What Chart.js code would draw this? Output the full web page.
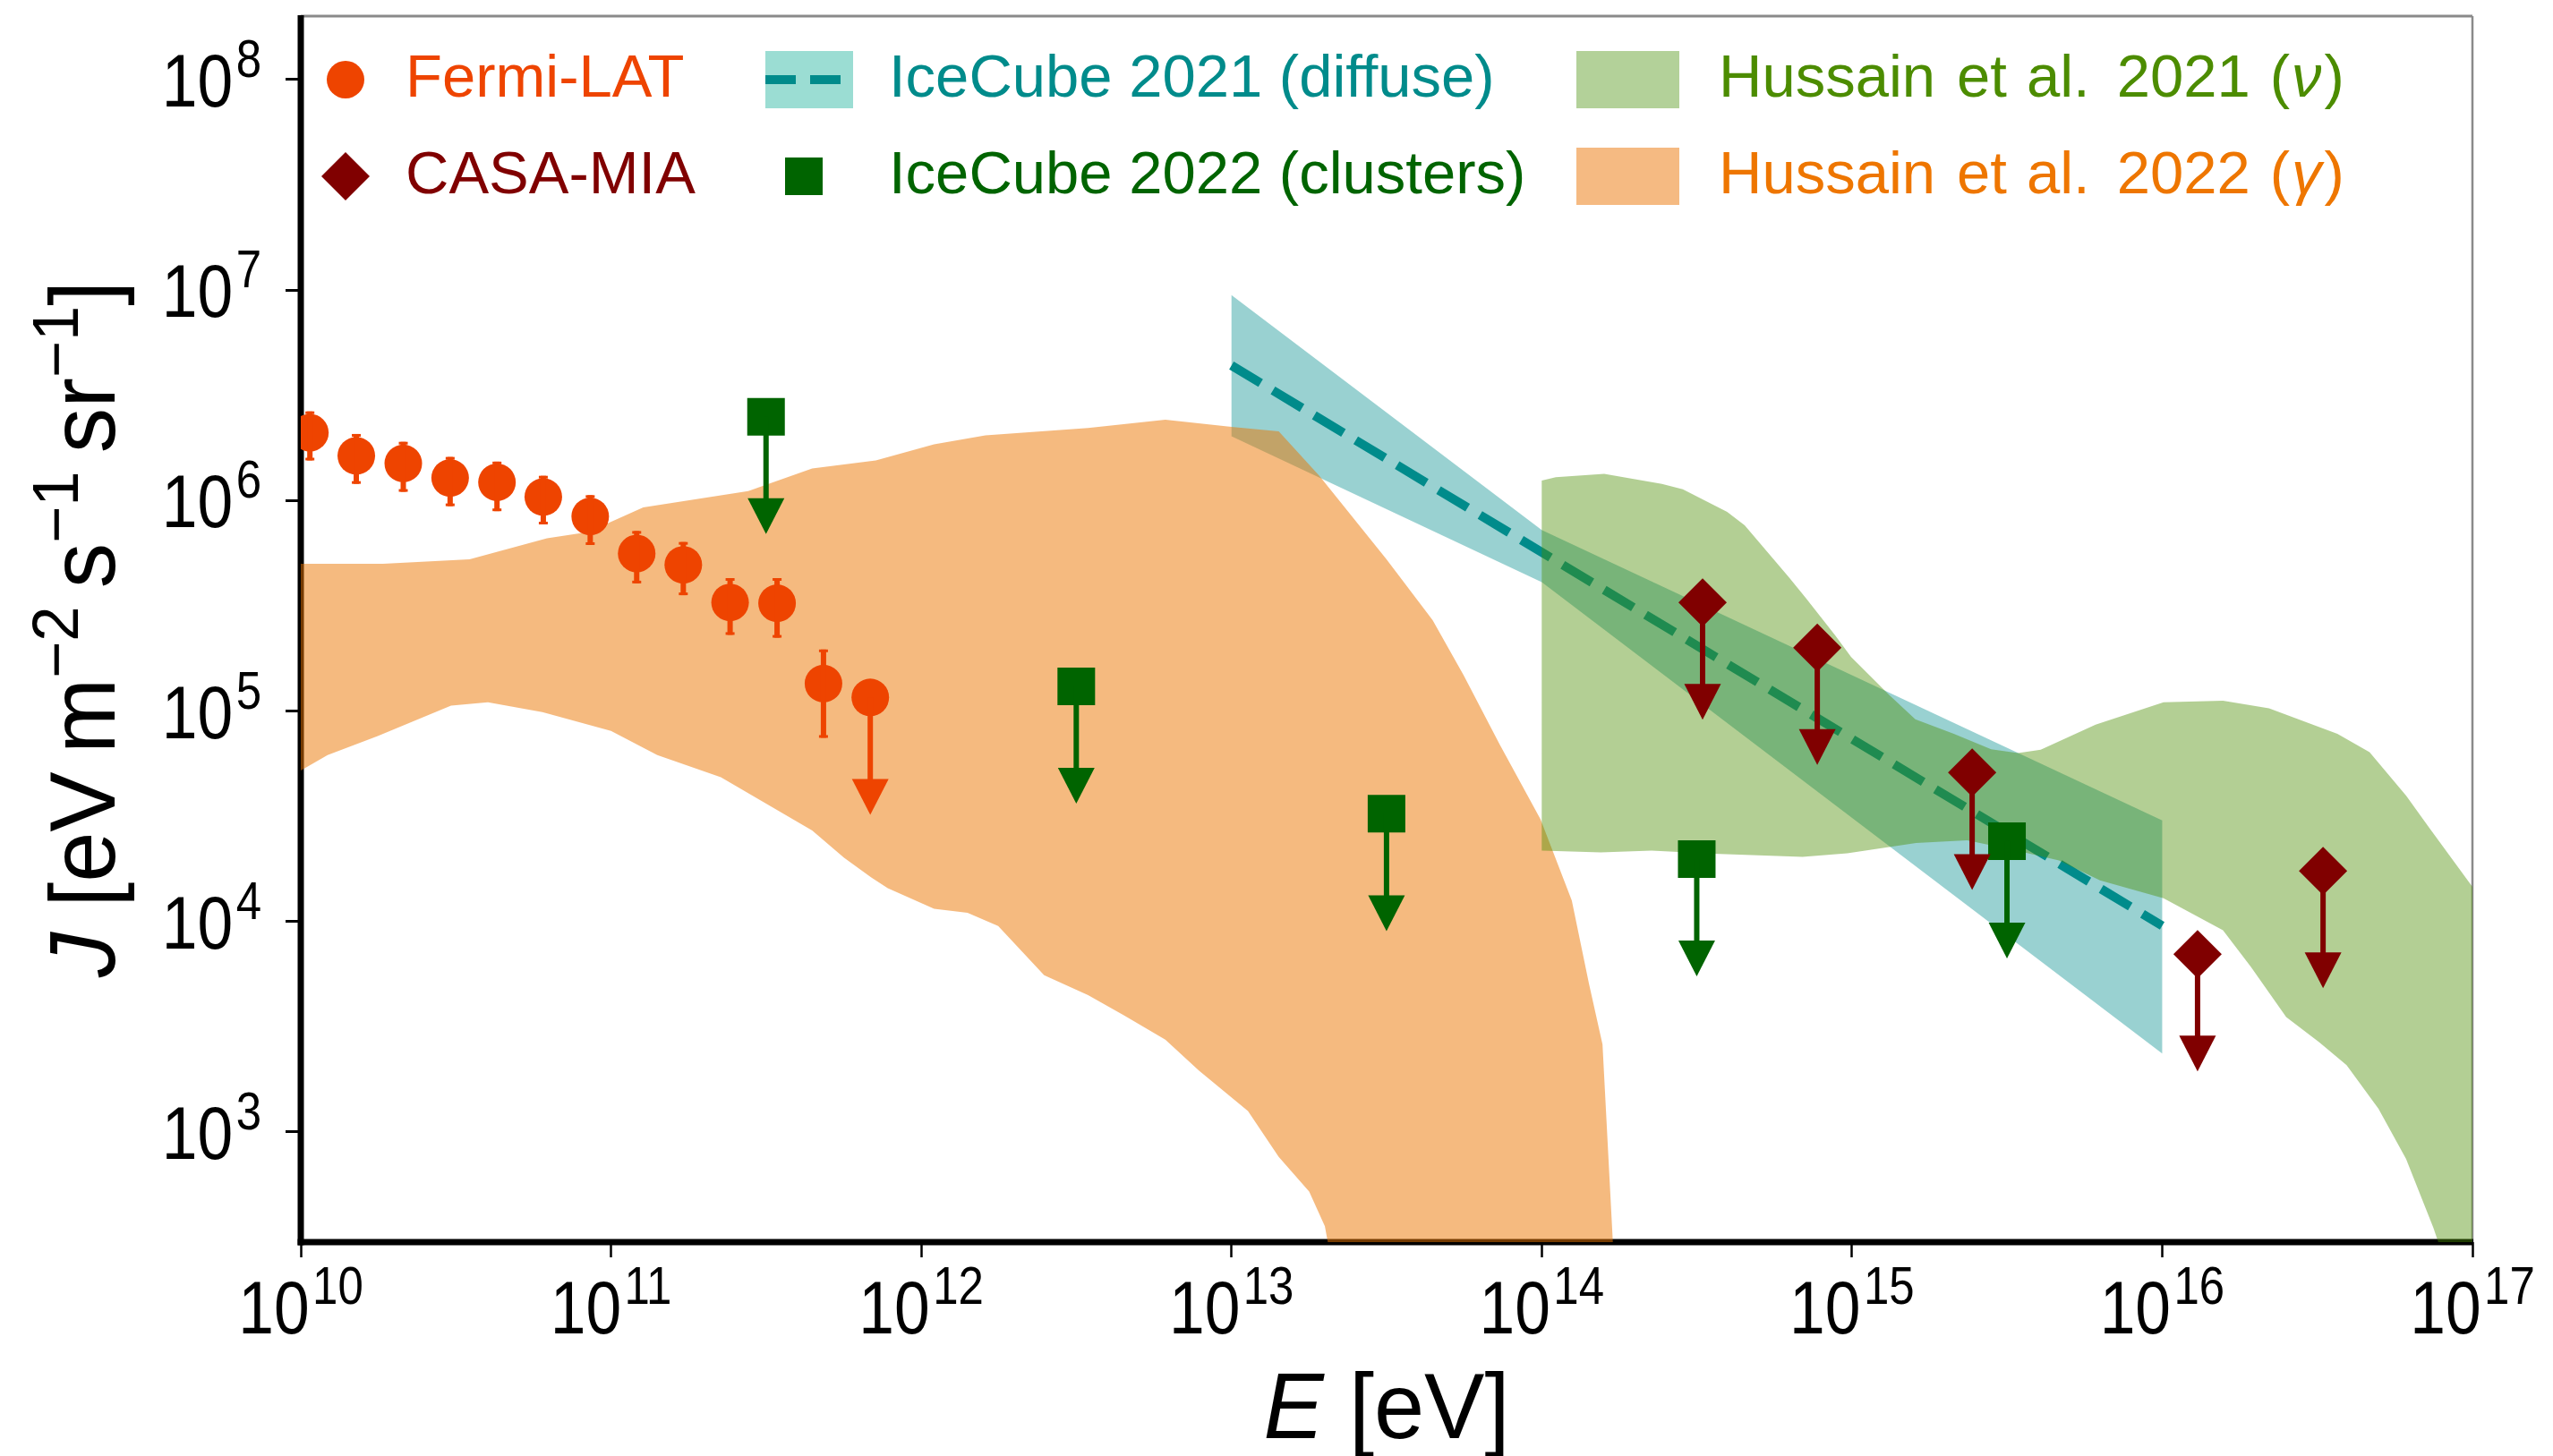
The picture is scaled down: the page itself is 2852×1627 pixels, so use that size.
<!DOCTYPE html>
<html>
<head>
<meta charset="utf-8">
<title>Gamma-ray and neutrino intensities</title>
<script src="https://cdn.jsdelivr.net/npm/chart.js@4.4.1/dist/chart.umd.min.js"></script>
<style>
  html, body { margin: 0; padding: 0; background: #ffffff; }
  canvas { display: block; }
</style>
</head>
<body>
<canvas id="chart" width="2852" height="1627"></canvas>
<script>
// ---- Axis ranges and decade ticks (E in eV, J in eV m^-2 s^-1 sr^-1) ----
const X_MIN = 1e10, X_MAX = 1e17;
const Y_MIN = 3e2, Y_MAX = 2e8;
const X_TICK_EXPONENTS = [10, 11, 12, 13, 14, 15, 16, 17];
const Y_TICK_EXPONENTS = [3, 4, 5, 6, 7, 8];

// ---- Fermi-LAT points with 1-sigma bars (last bin is an upper limit) ----
const fermiE   = [1.07e10, 1.51e10, 2.14e10, 3.03e10, 4.29e10, 6.05e10, 8.57e10, 1.21e11, 1.71e11, 2.42e11, 3.43e11, 4.84e11, 6.85e11];
const fermiJ   = [2.10e6, 1.63e6, 1.50e6, 1.28e6, 1.22e6, 1.04e6, 8.4e5, 5.6e5, 4.95e5, 3.28e5, 3.25e5, 1.35e5, 1.16e5];
const fermiJHi = [2.65e6, 2.07e6, 1.90e6, 1.61e6, 1.53e6, 1.31e6, 1.06e6, 7.16e5, 6.35e5, 4.28e5, 4.28e5, 1.96e5, null];
const fermiJLo = [1.55e6, 1.20e6, 1.10e6, 9.4e5, 8.9e5, 7.7e5, 6.15e5, 4.04e5, 3.55e5, 2.30e5, 2.23e5, 7.46e4, null];
const fermiUL  = [false, false, false, false, false, false, false, false, false, false, false, false, true];

// ---- CASA-MIA upper limits ----
const casaE = [3.30e14, 7.73e14, 2.44e15, 1.30e16, 3.30e16];
const casaJ = [3.28e5, 2.00e5, 5.10e4, 7.0e3, 1.74e4];

// ---- IceCube 2022 (clusters) upper limits ----
const icClusterE = [3.16e11, 3.16e12, 3.16e13, 3.16e14, 3.16e15];
const icClusterJ = [2.50e6, 1.31e5, 3.25e4, 1.98e4, 2.41e4];

// Upper-limit arrows reach down to this fraction of the quoted value
const UL_FRACTION = 0.41;

// ---- IceCube 2021 diffuse: best-fit power law and its uncertainty band ----
const icDiffuseE = [1e13, 1e16];
const icDiffuseJ = [4.38e6, 9.55e3];
const icBandE  = [1e13, 1e14, 1e16];
const icBandHi = [9.46e6, 7.24e5, 3.02e4];
const icBandLo = [2.02e6, 4.10e5, 2.36e3];

// ---- Hussain et al. 2022 (gamma) band ----
const gamUpE = [1.00e10, 1.84e10, 3.50e10, 6.22e10, 8.45e10, 1.27e11, 2.77e11, 4.45e11, 7.14e11, 1.10e12, 1.61e12, 3.45e12, 6.12e12, 1.00e13, 1.42e13, 1.92e13, 3.16e13, 4.45e13, 5.60e13, 7.31e13, 9.91e13, 1.25e14, 1.42e14, 1.57e14, 1.72e14];
const gamUpJ = [5.01e5, 5.01e5, 5.25e5, 6.61e5, 7.08e5, 9.27e5, 1.11e6, 1.42e6, 1.55e6, 1.85e6, 2.04e6, 2.21e6, 2.42e6, 2.24e6, 2.13e6, 1.31e6, 5.25e5, 2.70e5, 1.48e5, 6.97e4, 3.06e4, 1.26e4, 5.07e3, 2.61e3, 2.0e2];
const gamLoE = [1.00e10, 1.22e10, 1.77e10, 3.05e10, 4.01e10, 6.01e10, 1.00e11, 1.41e11, 2.26e11, 4.45e11, 5.64e11, 6.90e11, 7.80e11, 1.10e12, 1.41e12, 1.77e12, 2.49e12, 3.45e12, 4.51e12, 6.12e12, 7.85e12, 1.13e13, 1.42e13, 1.78e13, 2.00e13, 2.15e13];
const gamLoJ = [5.22e4, 6.18e4, 7.60e4, 1.06e5, 1.10e5, 9.89e4, 8.04e4, 6.18e4, 4.85e4, 2.71e4, 2.01e4, 1.62e4, 1.44e4, 1.15e4, 1.10e4, 9.53e3, 5.56e3, 4.47e3, 3.58e3, 2.75e3, 1.96e3, 1.26e3, 7.62e2, 5.21e2, 3.57e2, 2.0e2];

// ---- Hussain et al. 2021 (neutrino) band ----
const nuUpE = [1.00e14, 1.11e14, 1.59e14, 2.44e14, 2.85e14, 3.96e14, 4.51e14, 6.27e14, 7.11e14, 8.83e14, 9.93e14, 1.32e15, 1.60e15, 2.13e15, 2.81e15, 3.43e15, 4.06e15, 6.10e15, 1.01e16, 1.57e16, 2.21e16, 3.67e16, 4.66e16, 6.11e16, 7.24e16, 1.00e17];
const nuUpJ = [1.245e6, 1.29e6, 1.34e6, 1.20e6, 1.13e6, 8.83e5, 7.62e5, 4.31e5, 3.43e5, 2.29e5, 1.81e5, 1.19e5, 9.14e4, 7.80e4, 6.58e4, 6.32e4, 6.55e4, 8.61e4, 1.10e5, 1.12e5, 1.03e5, 7.80e4, 6.38e4, 3.97e4, 2.80e4, 1.46e4];
const nuLoE = [1.00e14, 1.55e14, 2.26e14, 3.58e14, 6.93e14, 9.66e14, 1.61e15, 2.35e15, 3.44e15, 4.65e15, 6.30e15, 1.01e16, 1.57e16, 1.93e16, 2.51e16, 3.21e16, 3.93e16, 4.98e16, 6.11e16, 7.48e16, 1.00e17];
const nuLoJ = [2.17e4, 2.13e4, 2.17e4, 2.10e4, 2.03e4, 2.11e4, 2.36e4, 2.43e4, 2.16e4, 1.95e4, 1.57e4, 1.29e4, 9.08e3, 6.10e3, 3.52e3, 2.67e3, 2.08e3, 1.29e3, 7.46e2, 3.52e2, 1.0e2];

// ---- Colours ----
const C_FERMI = '#EE4400';
const C_CASA = '#800000';
const C_ICCLUSTER = '#006400';
const C_ICDIFFUSE = '#008B8B';
const C_NU_TEXT = '#4C8C00';
const C_GAM_TEXT = '#EE7600';
const C_ICBAND = 'rgba(0,139,139,0.40)';
const C_NUBAND = 'rgba(75,140,0,0.42)';
const C_GAMBAND = 'rgba(236,118,0,0.50)';

const FONT_FAMILY = '"Liberation Sans", "DejaVu Sans", Arial, sans-serif';

// helpers to turn value arrays into {x, y} points
const pts = (xs, ys) => xs.map((x, i) => ({ x, y: ys[i] }));
const closedBand = (xu, yu, xl, yl) => pts(xu, yu).concat(pts(xl, yl).reverse());

// ---- Rich text (plain / italic / superscript runs) ----
function fontFor(part, o) {
  const size = part.sup ? o.supSize : o.size;
  return (part.it ? 'italic ' : '') + size + 'px ' + FONT_FAMILY;
}
function richWidth(ctx, parts, o) {
  let w = 0;
  for (const p of parts) {
    ctx.font = fontFor(p, o);
    w += ctx.measureText(p.t).width + (p.gap || 0);
  }
  return w;
}
function drawRich(ctx, parts, x, y, o) {
  ctx.save();
  ctx.translate(x, y);
  if (o.rotate) ctx.rotate(o.rotate);
  ctx.scale(o.sx || 1, 1);
  ctx.fillStyle = o.color || '#000';
  ctx.textBaseline = 'alphabetic';
  ctx.textAlign = 'left';
  const w = richWidth(ctx, parts, o);
  let cx = o.align === 'center' ? -w / 2 : (o.align === 'right' ? -w : 0);
  for (const p of parts) {
    ctx.font = fontFor(p, o);
    cx += (p.gap || 0);
    ctx.fillText(p.t, cx, p.sup ? -o.supRise : 0);
    cx += ctx.measureText(p.t).width;
  }
  ctx.restore();
}
const decadeLabel = (e) => [{ t: '10' }, { t: String(e), sup: true, gap: 4 }];
// "Hussain et al. YEAR (symbol)" with the wider spacing used after "et al."
const hussainLabel = (year, symbol) => [
  { t: 'Hussain' }, { t: 'et', gap: 24 }, { t: 'al.', gap: 22 }, { t: year, gap: 30 },
  { t: '(', gap: 22 }, { t: symbol, it: true, gap: 2 }, { t: ')', gap: 3 }
];

// ---- Axes frame, tick labels and titles ----
const framePlugin = {
  id: 'frame',
  beforeDatasetsDraw(chart) {
    const { ctx, chartArea: a } = chart;
    ctx.save();
    ctx.lineCap = 'butt';
    ctx.strokeStyle = '#8a8a8a';
    ctx.lineWidth = 3;
    ctx.beginPath(); ctx.moveTo(a.left, a.top); ctx.lineTo(a.right, a.top); ctx.stroke();
    ctx.lineWidth = 2.5;
    ctx.beginPath(); ctx.moveTo(a.right, a.top); ctx.lineTo(a.right, a.bottom); ctx.stroke();
    ctx.strokeStyle = '#000';
    ctx.lineWidth = 7;
    ctx.beginPath(); ctx.moveTo(a.left, a.top - 1); ctx.lineTo(a.left, a.bottom + 3.5); ctx.stroke();
    ctx.beginPath(); ctx.moveTo(a.left - 3.5, a.bottom); ctx.lineTo(a.right + 1, a.bottom); ctx.stroke();
    ctx.restore();
  },
  afterDraw(chart) {
    const { ctx, chartArea: a, scales: { x, y } } = chart;
    const tickOpt = { size: 84, supSize: 60, supRise: 33, sx: 0.85 };
    for (const e of X_TICK_EXPONENTS) {
      drawRich(ctx, decadeLabel(e), x.getPixelForValue(Math.pow(10, e)), a.bottom + 102,
        Object.assign({ align: 'center' }, tickOpt));
    }
    for (const e of Y_TICK_EXPONENTS) {
      drawRich(ctx, decadeLabel(e), a.left - 44, y.getPixelForValue(Math.pow(10, e)) + 30,
        Object.assign({ align: 'right' }, tickOpt));
    }
    const titleOpt = { size: 103, supSize: 72, supRise: 41, sx: 0.98, align: 'center' };
    drawRich(ctx, [{ t: 'E', it: true }, { t: ' [eV]' }], (a.left + a.right) / 2, a.bottom + 219, titleOpt);
    drawRich(ctx, [
      { t: 'J', it: true }, { t: ' [eV\u2009m' }, { t: '\u22122', sup: true },
      { t: '\u2009s' }, { t: '\u22121', sup: true },
      { t: '\u2009sr' }, { t: '\u22121', sup: true }, { t: ']' }
    ], 128, (a.top + a.bottom) / 2, Object.assign({ rotate: -Math.PI / 2 }, titleOpt));
  }
};

// ---- Error bars and upper-limit arrows, placed through the chart scales ----
function drawArrow(ctx, x, y, px, value, color) {
  const y0 = y.getPixelForValue(value);
  const y1 = y.getPixelForValue(value * UL_FRACTION);
  ctx.strokeStyle = color;
  ctx.fillStyle = color;
  ctx.lineWidth = 6;
  ctx.beginPath(); ctx.moveTo(px, y0); ctx.lineTo(px, y1 + 2); ctx.stroke();
  ctx.beginPath();
  ctx.moveTo(px - 20.5, y1); ctx.lineTo(px + 20.5, y1); ctx.lineTo(px, y1 + 40);
  ctx.closePath(); ctx.fill();
}
const limitsPlugin = {
  id: 'limits',
  afterDatasetsDraw(chart) {
    const { ctx, chartArea: a, scales: { x, y } } = chart;
    ctx.save();
    ctx.beginPath(); ctx.rect(a.left, a.top, a.right - a.left, a.bottom - a.top); ctx.clip();
    ctx.lineCap = 'butt';
    fermiE.forEach((e, i) => {
      const px = x.getPixelForValue(e);
      if (fermiUL[i]) { drawArrow(ctx, x, y, px, fermiJ[i], C_FERMI); return; }
      const yt = y.getPixelForValue(fermiJHi[i]);
      const yb = y.getPixelForValue(fermiJLo[i]);
      ctx.strokeStyle = C_FERMI;
      ctx.lineWidth = 6;
      ctx.beginPath(); ctx.moveTo(px, yt); ctx.lineTo(px, yb); ctx.stroke();
      ctx.lineWidth = 3;
      ctx.beginPath(); ctx.moveTo(px - 5, yt + 1.5); ctx.lineTo(px + 5, yt + 1.5); ctx.stroke();
      ctx.beginPath(); ctx.moveTo(px - 5, yb - 1.5); ctx.lineTo(px + 5, yb - 1.5); ctx.stroke();
    });
    icClusterE.forEach((e, i) => drawArrow(ctx, x, y, x.getPixelForValue(e), icClusterJ[i], C_ICCLUSTER));
    casaE.forEach((e, i) => drawArrow(ctx, x, y, x.getPixelForValue(e), casaJ[i], C_CASA));
    ctx.restore();
  }
};

// ---- Legend (three columns, two rows) ----
const legendPlugin = {
  id: 'customLegend',
  afterDraw(chart) {
    const { ctx, chartArea: a } = chart;
    const L = a.left, T = a.top;
    const r1 = T + 71, r2 = T + 179;
    const txt = { size: 67, supSize: 46, supRise: 25, sx: 1, align: 'left' };
    ctx.save();
    // Fermi-LAT
    ctx.fillStyle = C_FERMI;
    ctx.beginPath(); ctx.arc(L + 50, r1, 21, 0, 2 * Math.PI); ctx.fill();
    drawRich(ctx, [{ t: 'Fermi-LAT' }], L + 117, r1 + 19, Object.assign({ color: C_FERMI }, txt));
    // CASA-MIA
    ctx.fillStyle = C_CASA;
    ctx.beginPath();
    ctx.moveTo(L + 50, r2 - 27); ctx.lineTo(L + 77, r2); ctx.lineTo(L + 50, r2 + 27); ctx.lineTo(L + 23, r2);
    ctx.closePath(); ctx.fill();
    drawRich(ctx, [{ t: 'CASA-MIA' }], L + 117, r2 + 19, Object.assign({ color: C_CASA }, txt));
    // IceCube 2021 (diffuse)
    ctx.fillStyle = 'rgb(155,221,211)';
    ctx.fillRect(L + 519, r1 - 32, 98, 64);
    ctx.save();
    ctx.beginPath(); ctx.rect(L + 519, r1 - 32, 98, 64); ctx.clip();
    ctx.strokeStyle = C_ICDIFFUSE; ctx.lineWidth = 10; ctx.setLineDash([34, 16]);
    ctx.beginPath(); ctx.moveTo(L + 519, r1); ctx.lineTo(L + 617, r1); ctx.stroke();
    ctx.restore();
    drawRich(ctx, [{ t: 'IceCube 2021 (diffuse)' }], L + 657, r1 + 19, Object.assign({ color: C_ICDIFFUSE }, txt));
    // IceCube 2022 (clusters)
    ctx.fillStyle = C_ICCLUSTER;
    ctx.fillRect(L + 562 - 21, r2 - 21, 42, 42);
    drawRich(ctx, [{ t: 'IceCube 2022 (clusters)' }], L + 657, r2 + 19, Object.assign({ color: C_ICCLUSTER }, txt));
    // Hussain et al. bands
    ctx.fillStyle = 'rgb(179,209,153)';
    ctx.fillRect(L + 1425, r1 - 32, 115, 64);
    drawRich(ctx, hussainLabel('2021', '\u03BD'), L + 1584, r1 + 19, Object.assign({ color: C_NU_TEXT }, txt));
    ctx.fillStyle = 'rgb(245,186,130)';
    ctx.fillRect(L + 1425, r2 - 32, 115, 64);
    drawRich(ctx, hussainLabel('2022', '\u03B3'), L + 1584, r2 + 19, Object.assign({ color: C_GAM_TEXT }, txt));
    ctx.restore();
  }
};

const bandStyle = (color, order) => ({
  fill: 'shape', backgroundColor: color, borderWidth: 0, pointRadius: 0, tension: 0, order
});
const markerStyle = (color, style, radius, order) => ({
  showLine: false, pointStyle: style, pointRadius: radius, pointHoverRadius: radius,
  pointBackgroundColor: color, pointBorderColor: color, pointBorderWidth: 0, clip: 0, order
});

new Chart(document.getElementById('chart'), {
  type: 'line',
  data: {
    datasets: [
      Object.assign({ label: 'IceCube 2021 band', data: closedBand(icBandE, icBandHi, icBandE, icBandLo) }, bandStyle(C_ICBAND, 10)),
      { label: 'IceCube 2021 (diffuse)', data: pts(icDiffuseE, icDiffuseJ), borderColor: C_ICDIFFUSE, borderWidth: 10,
        borderDash: [38, 16], borderCapStyle: 'butt', pointRadius: 0, fill: false, tension: 0, order: 9 },
      Object.assign({ label: 'Hussain et al. 2022 (\u03B3)', data: closedBand(gamUpE, gamUpJ, gamLoE, gamLoJ) }, bandStyle(C_GAMBAND, 8)),
      Object.assign({ label: 'Hussain et al. 2021 (\u03BD)', data: closedBand(nuUpE, nuUpJ, nuLoE, nuLoJ) }, bandStyle(C_NUBAND, 7)),
      Object.assign({ label: 'Fermi-LAT', data: pts(fermiE, fermiJ) }, markerStyle(C_FERMI, 'circle', 21, 3)),
      Object.assign({ label: 'IceCube 2022 (clusters)', data: pts(icClusterE, icClusterJ) }, markerStyle(C_ICCLUSTER, 'rect', 29.7, 2)),
      Object.assign({ label: 'CASA-MIA', data: pts(casaE, casaJ) }, markerStyle(C_CASA, 'rectRot', 27, 1))
    ]
  },
  options: {
    responsive: false,
    animation: false,
    devicePixelRatio: 1,
    events: [],
    layout: { autoPadding: false, padding: { left: 319, right: 90, top: 18, bottom: 222 } },
    plugins: { legend: { display: false }, tooltip: { enabled: false } },
    scales: {
      x: {
        type: 'logarithmic', min: X_MIN, max: X_MAX,
        afterBuildTicks: (s) => { s.ticks = X_TICK_EXPONENTS.map(e => ({ value: Math.pow(10, e) })); },
        ticks: { display: false, autoSkip: false },
        grid: { drawOnChartArea: false, drawTicks: true, tickLength: 17, tickWidth: 2.5, tickColor: '#000' },
        border: { display: false }
      },
      y: {
        type: 'logarithmic', min: Y_MIN, max: Y_MAX,
        afterBuildTicks: (s) => { s.ticks = Y_TICK_EXPONENTS.map(e => ({ value: Math.pow(10, e) })); },
        ticks: { display: false, autoSkip: false },
        grid: { drawOnChartArea: false, drawTicks: true, tickLength: 17, tickWidth: 3, tickColor: '#000' },
        border: { display: false }
      }
    }
  },
  plugins: [framePlugin, limitsPlugin, legendPlugin]
});
</script>
</body>
</html>
